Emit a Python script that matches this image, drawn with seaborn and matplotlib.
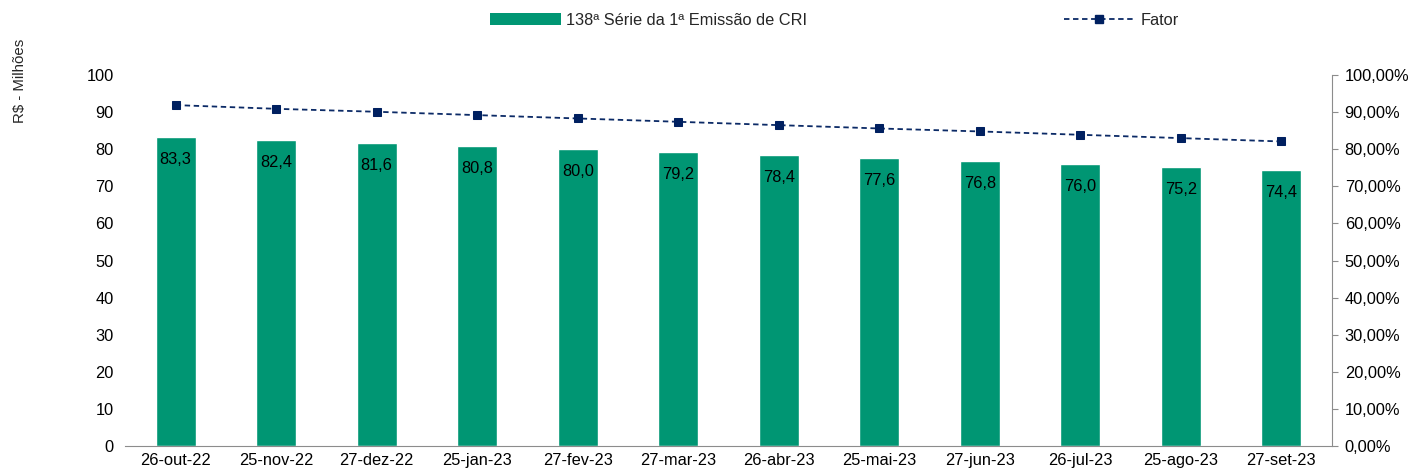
import numpy as np
import pandas as pd
import matplotlib
matplotlib.use("Agg")
import matplotlib.pyplot as plt
import seaborn as sns
from matplotlib.ticker import FuncFormatter
from matplotlib.patches import Patch
from matplotlib.lines import Line2D

# data
datas = ["26-out-22", "25-nov-22", "27-dez-22", "25-jan-23", "27-fev-23", "27-mar-23",
         "26-abr-23", "25-mai-23", "27-jun-23", "26-jul-23", "25-ago-23", "27-set-23"]
saldo = [83.3, 82.4, 81.6, 80.8, 80.0, 79.2, 78.4, 77.6, 76.8, 76.0, 75.2, 74.4]
fator = [91.9, 90.9, 90.1, 89.2, 88.3, 87.4, 86.5, 85.6, 84.8, 83.9, 83.0, 82.1]

df = pd.DataFrame({"data": datas, "saldo": saldo, "fator": fator})

sns.set_style("white")
plt.rcParams["font.family"] = ["Liberation Sans", "DejaVu Sans"]
fs = 11.8

verde = "#009673"
azul = "#0b2a66"
cinza = "#8c8c8c"

fig = plt.figure(figsize=(14.09, 4.75), dpi=100)
ax = fig.add_axes([0.089, 0.061, 0.856, 0.781])

sns.barplot(data=df, x="data", y="saldo", color=verde, width=0.4, saturation=1, ax=ax)
ax.set_ylim(0, 100)
ax.set_yticks(range(0, 101, 10))
ax.set_xlim(-0.5, 11.5)
ax.set_xlabel("")
ax.set_ylabel("")
for i, v in enumerate(saldo):
    ax.annotate(f"{v:.1f}".replace(".", ","), (i, v), xytext=(0, -16),
                textcoords="offset points", ha="center", va="center", fontsize=fs,
                color="black")

ax.tick_params(axis="y", length=0, pad=8.5, labelsize=fs, labelcolor="black")
ax.tick_params(axis="x", length=0, labelsize=fs, pad=5, labelcolor="black")
for s in ["left", "top", "right"]:
    ax.spines[s].set_visible(False)
ax.spines["bottom"].set_color(cinza)

ax2 = ax.twinx()
sns.lineplot(x=np.arange(len(fator)), y=fator, ax=ax2, color=azul, linestyle=(0, (3, 2)),
             linewidth=1.3, marker="s", markersize=6, markeredgecolor="#002060",
             markerfacecolor="#002060", legend=False)
ax2.set_ylim(0, 100)
ax2.set_yticks(range(0, 101, 10))
ax2.yaxis.set_major_formatter(FuncFormatter(lambda v, p: f"{v:.2f}%".replace(".", ",")))
ax2.tick_params(axis="y", length=4, direction="out", color=cinza, labelsize=fs, pad=5.5,
                labelcolor="black")
for s in ["left", "top", "bottom"]:
    ax2.spines[s].set_visible(False)
ax2.spines["right"].set_color(cinza)
ax2.set_xlim(-0.5, 11.5)

fig.text(0.0145, 0.83, "R$ - Milhões", rotation=90, ha="center", va="center", fontsize=fs - 1)

# legend
h1 = Patch(facecolor=verde, edgecolor="none")
fig.legend([h1], ["138ª Série da 1ª Emissão de CRI"], loc="center left",
           bbox_to_anchor=(0.348, 0.957), frameon=False, fontsize=fs,
           handlelength=4.3, handleheight=0.73, handletextpad=0.3, borderpad=0, borderaxespad=0)
h2 = Line2D([], [], color=azul, linestyle=(0, (3, 2)), linewidth=1.3, marker="s",
            markersize=6, markerfacecolor="#002060", markeredgecolor="#002060")
fig.legend([h2], ["Fator"], loc="center left", bbox_to_anchor=(0.755, 0.957), frameon=False,
           fontsize=fs, handlelength=4.3, handletextpad=0.4, borderpad=0, borderaxespad=0)

fig.savefig("out.png", dpi=100)
